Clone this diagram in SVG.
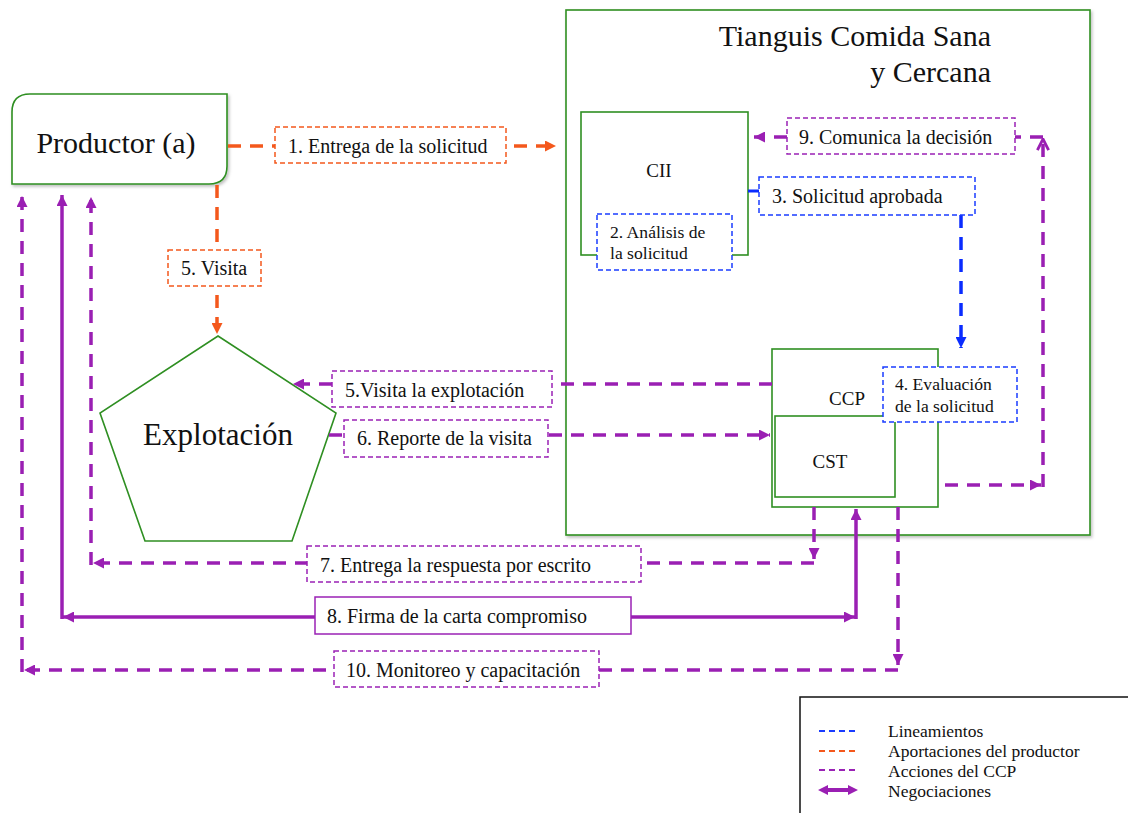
<svg xmlns="http://www.w3.org/2000/svg" width="1128" height="813" viewBox="0 0 1128 813" font-family="'Liberation Serif', 'DejaVu Serif', serif">
<style>
text{font-family:'Liberation Serif','DejaVu Serif',serif;fill:#111}
.node{fill:#fff;stroke:#2f8f22;stroke-width:1.6}
.lbl{font-size:20px}
.small{font-size:17.6px}
.leg{font-size:17.5px}
.bx{fill:#fff;stroke-width:1.5;stroke-dasharray:5 3}
.bo{stroke:#f4581c}.bb{stroke:#1a3cff}.bp{stroke:#9a22b5}
.c{fill:none;stroke-width:3.5;stroke-dasharray:13 9}
.co{stroke:#f4581c}.cb{stroke:#0a2cff}.cp{stroke:#9a1fb3}
.cs{fill:none;stroke:#9a1fb3;stroke-width:3.5}
</style>
<defs>
<filter id="sh" x="-5%" y="-5%" width="115%" height="115%">
<feDropShadow dx="1.5" dy="2" stdDeviation="1.5" flood-color="#000" flood-opacity="0.25"/>
</filter>
<marker id="aO" viewBox="0 0 10 10" refX="10" refY="5" markerWidth="11" markerHeight="11" markerUnits="userSpaceOnUse" orient="auto-start-reverse"><path d="M0,0L10,5L0,10z" fill="#f4581c"/></marker>
<marker id="aB" viewBox="0 0 10 10" refX="10" refY="5" markerWidth="11" markerHeight="11" markerUnits="userSpaceOnUse" orient="auto-start-reverse"><path d="M0,0L10,5L0,10z" fill="#0a2cff"/></marker>
<marker id="aP" viewBox="0 0 10 10" refX="10" refY="5" markerWidth="11" markerHeight="11" markerUnits="userSpaceOnUse" orient="auto-start-reverse"><path d="M0,0L10,5L0,10z" fill="#9a1fb3"/></marker>
<marker id="aV" viewBox="0 0 10 10" refX="9" refY="5" markerWidth="14" markerHeight="14" markerUnits="userSpaceOnUse" orient="auto"><path d="M1,1L9,5L1,9" fill="none" stroke="#9a1fb3" stroke-width="2"/></marker>
</defs>
<rect width="1128" height="813" fill="#fff"/>

<g id="tianguis">
<rect class="node" x="566" y="10" width="524" height="525" filter="url(#sh)"/>
<text x="991" y="46" font-size="30" text-anchor="end">Tianguis Comida Sana</text>
<text x="991" y="82" font-size="30" text-anchor="end">y Cercana</text>
</g>

<g id="productor">
<path class="node" d="M30,94H227V166Q227,184 209,184H12V112Q12,94 30,94Z" filter="url(#sh)"/>
<text x="116" y="153" font-size="30" text-anchor="middle">Productor (a)</text>
</g>

<g id="explotacion">
<polygon class="node" points="218,336 336,413 292,541 145,541 100,413"/>
<text x="218" y="445" font-size="31" text-anchor="middle">Explotación</text>
</g>

<g id="cii">
<rect class="node" x="581" y="112" width="167" height="143"/>
<text x="659" y="177" font-size="19" text-anchor="middle">CII</text>
</g>

<g id="ccp">
<rect class="node" x="772" y="349" width="166" height="158"/>
<text x="847" y="405" font-size="19" text-anchor="middle">CCP</text>
</g>

<g id="cst">
<rect class="node" x="775" y="416" width="120" height="81"/>
<text x="830" y="468" font-size="19" text-anchor="middle">CST</text>
</g>

<g id="connectors">
<path class="c co" d="M228,146H556" marker-end="url(#aO)"/>
<path class="c co" d="M217,185V334" marker-end="url(#aO)"/>
<path d="M748,191H760" stroke="#0a2cff" stroke-width="3" fill="none"/>
<path class="c cb" d="M961,215V348" marker-end="url(#aB)"/>
<path class="c cp" d="M772,384H293" marker-end="url(#aP)"/>
<path class="c cp" d="M329,435H770" marker-end="url(#aP)"/>
<path class="c cp" d="M945,485H1041" marker-end="url(#aP)"/>
<path class="c cp" d="M1043,487V139" marker-end="url(#aV)"/>
<path class="c cp" d="M1043,137H1015"/>
<path class="c cp" d="M787,137H754" marker-end="url(#aP)"/>
<path class="c cp" d="M814,507V559" marker-end="url(#aP)"/>
<path class="c cp" d="M814,563H93" marker-end="url(#aP)"/>
<path class="c cp" d="M91,565V197" marker-end="url(#aP)"/>
<path class="cs" d="M63,617H855" marker-start="url(#aP)" marker-end="url(#aP)"/>
<path class="cs" d="M856,619V509" marker-end="url(#aP)"/>
<path class="cs" d="M62,619V195" marker-end="url(#aP)"/>
<path class="c cp" d="M898,507V665" marker-end="url(#aP)"/>
<path class="c cp" d="M898,670H24" marker-end="url(#aP)"/>
<path class="c cp" d="M22,672V196" marker-end="url(#aP)"/>
</g>

<g id="lbl1">
<rect class="bx bo" x="275" y="127" width="231" height="36"/>
<text class="lbl" x="288" y="153">1. Entrega de la solicitud</text>
</g>
<g id="lbl2">
<rect class="bx bb" x="597" y="214" width="135" height="56"/>
<text class="small" x="610" y="238">2. Análisis de</text>
<text class="small" x="610" y="259">la solicitud</text>
</g>
<g id="lbl3">
<rect class="bx bb" x="759" y="177" width="216" height="38"/>
<text class="lbl" x="772" y="203">3. Solicitud aprobada</text>
</g>
<g id="lbl4">
<rect class="bx bb" x="883" y="367" width="134" height="55"/>
<text class="small" x="895" y="390">4. Evaluación</text>
<text class="small" x="895" y="412">de la solicitud</text>
</g>
<g id="lbl5">
<rect class="bx bo" x="168" y="250" width="93" height="36"/>
<text class="lbl" x="181" y="275">5. Visita</text>
</g>
<g id="lbl5b">
<rect class="bx bp" x="332" y="371" width="220" height="36"/>
<text class="lbl" x="345" y="397">5.Visita la explotación</text>
</g>
<g id="lbl6">
<rect class="bx bp" x="344" y="420" width="204" height="37"/>
<text class="lbl" x="357" y="445">6. Reporte de la visita</text>
</g>
<g id="lbl7">
<rect class="bx bp" x="307" y="546" width="334" height="36"/>
<text class="lbl" x="320" y="572">7. Entrega la respuesta por escrito</text>
</g>
<g id="lbl8">
<rect x="315" y="597" width="316" height="37" fill="#fff" stroke="#9a22b5" stroke-width="1.5"/>
<text class="lbl" x="327" y="623">8. Firma de la carta compromiso</text>
</g>
<g id="lbl9">
<rect class="bx bp" x="787" y="118" width="228" height="36"/>
<text class="lbl" x="799" y="144">9. Comunica la decisión</text>
</g>
<g id="lbl10">
<rect class="bx bp" x="334" y="651" width="265" height="36"/>
<text class="lbl" x="346" y="677">10. Monitoreo y capacitación</text>
</g>

<g id="legend">
<rect x="800" y="697" width="340" height="130" fill="#fff" stroke="#111" stroke-width="1.5"/>
<path d="M819,731H857" stroke="#1a3cff" stroke-width="2" stroke-dasharray="6 4"/>
<path d="M819,751H857" stroke="#f4581c" stroke-width="2" stroke-dasharray="6 4"/>
<path d="M819,770H857" stroke="#9a22b5" stroke-width="2" stroke-dasharray="6 4"/>
<path d="M824,790H852" stroke="#9a1fb3" stroke-width="4"/>
<path d="M818,790L828,785V795Z M858,790L848,785V795Z" fill="#9a1fb3"/>
<text class="leg" x="888" y="737">Lineamientos</text>
<text class="leg" x="888" y="757">Aportaciones del productor</text>
<text class="leg" x="888" y="777">Acciones del CCP</text>
<text class="leg" x="888" y="797">Negociaciones</text>
</g>
</svg>
